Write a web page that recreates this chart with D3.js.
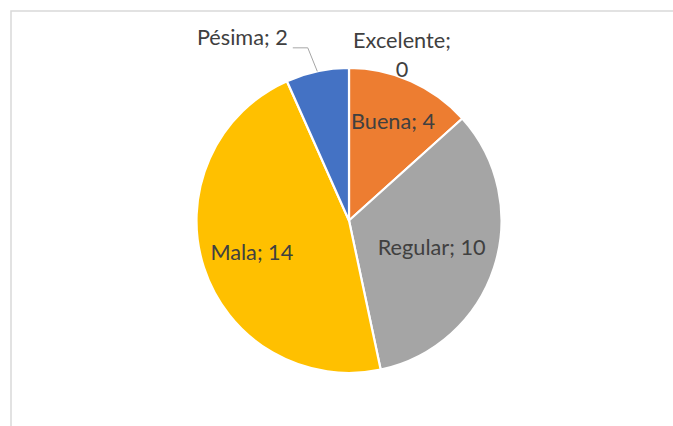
<!DOCTYPE html>
<html>
<head>
<meta charset="utf-8">
<title>Pie</title>
<script src="https://cdn.jsdelivr.net/npm/d3@7"></script>
<style>
  body { margin: 0; background: #fff; }
  text { font-family: Lato, "Liberation Sans", sans-serif; fill: #404040; }
</style>
</head>
<body>
<svg id="svg"></svg>
<script>
// data
var categories = ["Excelente", "Buena", "Regular", "Mala", "Pésima"];
var values = [0, 4, 10, 14, 2];
var colors = ["#4472C4", "#ED7D31", "#A5A5A5", "#FFC000", "#4472C4"];

var width = 673, height = 426,
    cx = 349, cy = 220.5, radius = 152.5,
    fontSize = 21.7;

var svg = d3.select("#svg")
    .attr("width", width)
    .attr("height", height);

// chart frame (only top and left edges are visible)
svg.append("rect")
    .attr("x", 11).attr("y", 11)
    .attr("width", 680).attr("height", 440)
    .attr("fill", "none")
    .attr("stroke", "#d9d9d9")
    .attr("stroke-width", 1.5);

var data = categories.map(function(c, i) { return {name: c, value: values[i], color: colors[i]}; });

var pie = d3.pie().sort(null).value(function(d) { return d.value; });
var arcs = pie(data);

var arc = d3.arc().innerRadius(0).outerRadius(radius);

var g = svg.append("g").attr("transform", "translate(" + cx + "," + cy + ")");

g.selectAll("path")
    .data(arcs.filter(function(d) { return d.value > 0; }))
    .enter().append("path")
    .attr("d", arc)
    .attr("fill", function(d) { return d.data.color; })
    .attr("stroke", "#fff")
    .attr("stroke-width", 2.2)
    .attr("stroke-linejoin", "round");

// labels inside slices: distance from centre as a share of the radius
var insideFactor = {"Buena": 0.71, "Regular": 0.57, "Mala": 0.67};

arcs.forEach(function(d) {
  var f = insideFactor[d.data.name];
  if (f === undefined) return;
  var p = d3.arc().innerRadius(radius * f).outerRadius(radius * f).centroid(d);
  g.append("text")
      .attr("x", p[0]).attr("y", p[1])
      .attr("dy", "0.35em")
      .attr("text-anchor", "middle")
      .style("font-size", fontSize + "px")
      .text(d.data.name + "; " + d.value);
});

// outside label for the zero slice (two lines, to the right of the top point)
var zero = arcs[0];
var zp = d3.arc().innerRadius(radius).outerRadius(radius).centroid(zero);
var zt = g.append("text")
    .attr("text-anchor", "middle")
    .style("font-size", fontSize + "px");
zt.append("tspan").attr("x", zp[0] + 53).attr("y", zp[1] - 20).text(zero.data.name + ";");
zt.append("tspan").attr("x", zp[0] + 53).attr("y", zp[1] + 9).text(zero.value);

// outside label with leader line for Pésima
var pes = arcs[4];
var pa = (pes.startAngle + pes.endAngle) / 2;
var p0 = [radius * Math.sin(pa), -radius * Math.cos(pa)];
var p1 = [p0[0] - 9.5, p0[1] - 23.5];
var p2 = [p1[0] - 15, p1[1]];
g.append("polyline")
    .attr("points", [p0, p1, p2].map(function(p) { return p.join(","); }).join(" "))
    .attr("fill", "none")
    .attr("stroke", "#a6a6a6")
    .attr("stroke-width", 1);
g.append("text")
    .attr("x", p2[0] - 5).attr("y", p2[1] - 2.5)
    .attr("text-anchor", "end")
    .style("font-size", fontSize + "px")
    .text(pes.data.name + "; " + pes.value);
</script>
</body>
</html>
